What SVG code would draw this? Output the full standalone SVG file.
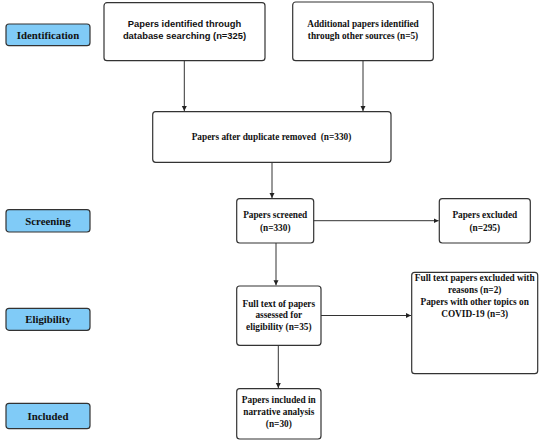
<svg xmlns="http://www.w3.org/2000/svg" width="542" height="443" viewBox="0 0 542 443">
<style>
.box{fill:#fff;stroke:#333;stroke-width:1.2}
.lab{fill:#80CBF7;stroke:#333;stroke-width:1.2}
.t{font-family:"Liberation Serif","Times New Roman",serif;font-weight:bold;font-size:9.3px;fill:#111;text-anchor:middle}
.s{font-family:"Liberation Sans",Arial,sans-serif;font-weight:bold;font-size:9.4px;fill:#111;text-anchor:middle}
.lt{font-family:"Liberation Serif","Times New Roman",serif;font-weight:bold;font-size:10.8px;fill:#111;text-anchor:middle}
.c{stroke:#333;stroke-width:1;fill:none}
</style>
<defs>
<marker id="ah" markerWidth="6" markerHeight="6" refX="5" refY="3" orient="auto" markerUnits="userSpaceOnUse">
<path d="M0,0.5 L5,3 L0,5.5 Z" fill="#222"/>
</marker>
</defs>
<rect width="542" height="443" fill="#fff"/>
<g id="label-identification"><rect class="lab" x="6" y="24" width="84" height="21.7" rx="3"/><text class="lt" x="48" y="38.5">Identification</text></g>
<g id="label-screening"><rect class="lab" x="6" y="209.7" width="84" height="22.3" rx="3"/><text class="lt" x="48" y="224.5">Screening</text></g>
<g id="label-eligibility"><rect class="lab" x="6" y="308.3" width="84" height="22" rx="3"/><text class="lt" x="48" y="323">Eligibility</text></g>
<g id="label-included"><rect class="lab" x="6" y="403.3" width="84" height="25.4" rx="3"/><text class="lt" x="48" y="419.5">Included</text></g>
<g id="box-database"><rect class="box" x="104" y="2.7" width="161" height="58" rx="3"/><text class="s" x="184.5" y="27">Papers identified through</text><text class="s" x="184.5" y="38.5">database searching (n=325)</text></g>
<g id="box-other"><rect class="box" x="292.7" y="2" width="140.6" height="58.7" rx="3"/><text class="t" x="363" y="27">Additional papers identified</text><text class="t" x="363" y="38.5">through other sources (n=5)</text></g>
<g id="box-duplicates"><rect class="box" x="152.7" y="111.7" width="238.3" height="50.6" rx="3"/><text class="t" x="271.5" y="140">Papers after duplicate removed &#160;(n=330)</text></g>
<g id="box-screened"><rect class="box" x="236.7" y="198.7" width="77" height="44.3" rx="3"/><text class="t" x="275.2" y="218">Papers screened</text><text class="t" x="275.2" y="231">(n=330)</text></g>
<g id="box-excluded"><rect class="box" x="439.3" y="198.7" width="91" height="44.3" rx="3"/><text class="t" x="484.8" y="218">Papers excluded</text><text class="t" x="484.8" y="231">(n=295)</text></g>
<g id="box-fulltext"><rect class="box" x="236.7" y="286" width="84.3" height="59.3" rx="3"/><text class="t" x="278.8" y="306.5">Full text of papers</text><text class="t" x="278.8" y="318.3">assessed for</text><text class="t" x="278.8" y="330.2">eligibility (n=35)</text></g>
<g id="box-fulltext-excluded"><rect class="box" x="411.7" y="272.3" width="126" height="101.4" rx="3"/><text class="t" x="474.7" y="280.5">Full text papers excluded with</text><text class="t" x="474.7" y="292.5">reasons (n=2)</text><text class="t" x="474.7" y="304.5">Papers with other topics on</text><text class="t" x="474.7" y="316.5">COVID-19 (n=3)</text></g>
<g id="box-included"><rect class="box" x="236.7" y="388.7" width="84.3" height="50.3" rx="3"/><text class="t" x="278.8" y="402.5">Papers included in</text><text class="t" x="278.8" y="414.5">narrative analysis</text><text class="t" x="278.8" y="426.5">(n=30)</text></g>
<g id="connectors">
<line class="c" x1="184.3" y1="60.7" x2="184.3" y2="111" marker-end="url(#ah)"/>
<line class="c" x1="363" y1="60.7" x2="363" y2="111" marker-end="url(#ah)"/>
<line class="c" x1="272" y1="162.3" x2="272" y2="198" marker-end="url(#ah)"/>
<line class="c" x1="313.7" y1="220.7" x2="438.6" y2="220.7" marker-end="url(#ah)"/>
<line class="c" x1="276" y1="243" x2="276" y2="285.3" marker-end="url(#ah)"/>
<line class="c" x1="321" y1="315.5" x2="411" y2="315.5" marker-end="url(#ah)"/>
<line class="c" x1="278.3" y1="345.3" x2="278.3" y2="388" marker-end="url(#ah)"/>
</g>
</svg>
